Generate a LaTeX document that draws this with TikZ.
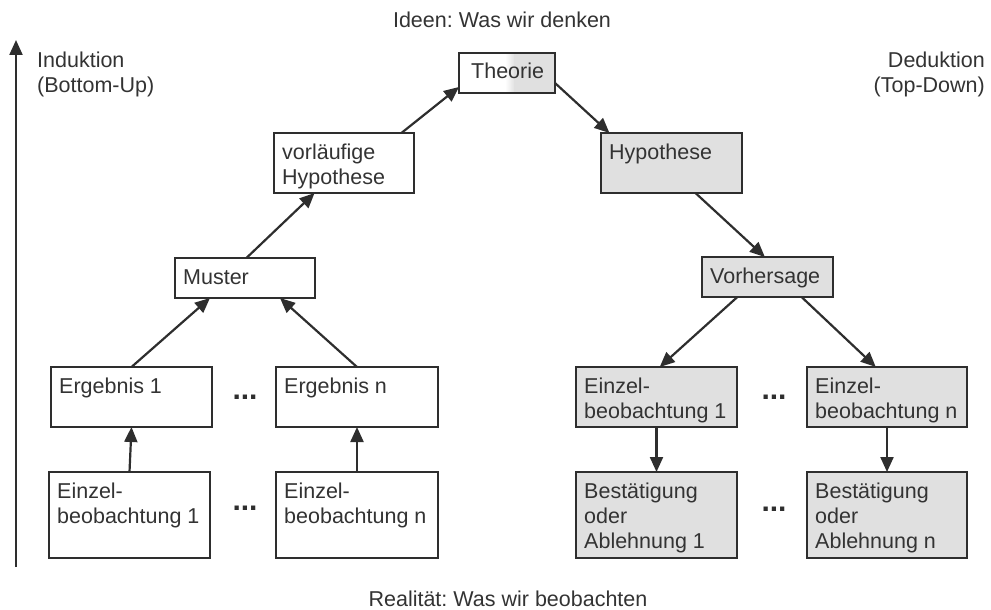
\documentclass[tikz,border=0pt]{standalone}
\usepackage{fontspec}
\setmainfont{Liberation Sans}
\usetikzlibrary{arrows.meta,calc}
\frenchspacing
\definecolor{ln}{HTML}{2E2E2E}
\definecolor{tx}{HTML}{333333}
\definecolor{fl}{HTML}{E0E0E0}
\tikzset{
  box/.style={draw=ln, line width=2.4pt, inner sep=0pt, outer sep=0pt, anchor=north west},
  lbl/.style={anchor=base west, inner sep=0pt, text=tx, font=\fontsize{21.5}{25}\selectfont},
  arr/.style={draw=ln, line width=2.2pt, -{Triangle[length=15pt,width=13pt]}},
  dotsty/.style={text=ln, font=\bfseries\fontsize{30}{25}\selectfont, inner sep=0pt},
}
\newcommand{\mkbox}[7]{%
  \node[box, fill=#6, minimum width={#4-#2}, minimum height={#5-#3}] (#1) at (#2,#3) {};
  \node[lbl] (#1t) at ({#2+8},{#3+26.5}) {\parbox[t]{200pt}{\raggedright #7}};
}
\begin{document}
\begin{tikzpicture}[x=1pt,y=-1pt]
\useasboundingbox (0,0) rectangle (991,610);
% titles
\node[lbl, anchor=base] (top) at (502,28) {Ideen: Was wir denken};
\node[lbl, anchor=base] (bot) at (508,606) {Realität: Was wir beobachten};
\node[lbl] (ind) at (37,67) {\parbox[t]{200pt}{\raggedright Induktion\\(Bottom-Up)}};
\node[lbl, anchor=base east] (ded) at (985,67) {\parbox[t]{200pt}{\raggedleft Deduktion\\(Top-Down)}};
% axis
\coordinate (ab) at (16,567);
\coordinate (at) at (16,40);
\draw[arr] (ab) -- (at);
% Theorie
\fill[white] (459,53) rectangle (507,93);
\shade[left color=white, right color=fl] (505,53) rectangle (515,93);
\fill[fl] (514,53) rectangle (555,93);
\node[box, minimum width=96, minimum height=40] (T) at (459,53) {};
\node[lbl] (Tt) at (471,79) {Theorie};
% boxes
\mkbox{VH}{274}{133}{414}{193}{white}{vorläufige\\Hypothese}
\mkbox{H}{601}{133}{742}{193}{fl}{Hypothese}
\mkbox{M}{175}{258}{315}{298}{white}{Muster}
\mkbox{V}{702}{257}{833}{297}{fl}{Vorhersage}
\mkbox{E1}{51}{367}{212}{427}{white}{Ergebnis 1}
\mkbox{En}{276}{367}{438}{427}{white}{Ergebnis n}
\mkbox{L1}{49}{472}{210}{558}{white}{Einzel-\\beobachtung 1}
\mkbox{Ln}{276}{472}{438}{558}{white}{Einzel-\\beobachtung n}
\mkbox{R1}{576}{367}{737}{427}{fl}{Einzel-\\beobachtung 1}
\mkbox{Rn}{807}{367}{967}{427}{fl}{Einzel-\\beobachtung n}
\mkbox{B1}{576}{472}{737}{558}{fl}{Bestätigung\\oder\\Ablehnung 1}
\mkbox{Bn}{807}{472}{967}{558}{fl}{Bestätigung\\oder\\Ablehnung n}
% dots
\node[dotsty] (d1) at (245,397) {...};
\node[dotsty] (d2) at (245,508) {...};
\node[dotsty] (d3) at (774,397) {...};
\node[dotsty] (d4) at (774,509) {...};
% arrows
\draw[arr] (L1.north) -- (E1.south);
\draw[arr] (Ln.north) -- (En.south);
\draw[arr] (E1.north) -- ($(M.south west)!0.25!(M.south east)$);
\draw[arr] (En.north) -- ($(M.south west)!0.75!(M.south east)$);
\draw[arr] ($(M.north west)!0.51!(M.north east)$) -- ($(VH.south west)!0.29!(VH.south east)$);
\draw[arr] ($(VH.north west)!0.91!(VH.north east)$) -- ([yshift=6pt]T.south west);
\draw[arr] ([yshift=10pt]T.south east) -- ($(H.north west)!0.06!(H.north east)$);
\draw[arr] ($(H.south west)!0.67!(H.south east)$) -- ($(V.north west)!0.48!(V.north east)$);
\draw[arr] ($(V.south west)!0.27!(V.south east)$) -- ($(R1.north west)!0.52!(R1.north east)$);
\draw[arr] ($(V.south west)!0.76!(V.south east)$) -- ($(Rn.north west)!0.43!(Rn.north east)$);
\draw[arr] (R1.south) -- (B1.north);
\draw[arr] (Rn.south) -- (Bn.north);
\end{tikzpicture}
\end{document}
